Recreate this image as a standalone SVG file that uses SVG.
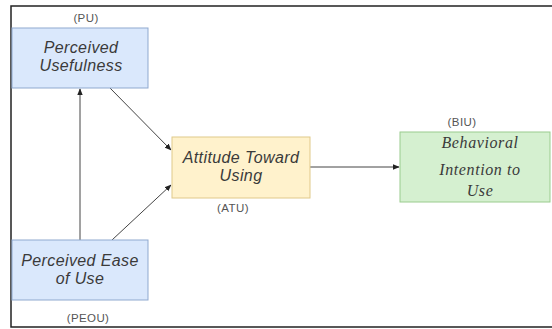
<svg xmlns="http://www.w3.org/2000/svg" width="552" height="329" viewBox="0 0 552 329">
<style>
.sans{font-family:"Liberation Sans",Arial,sans-serif;font-style:italic;font-size:16px;letter-spacing:0.4px;fill:#3a3a3a;text-anchor:middle}
.serif{font-family:"Liberation Serif","Times New Roman",serif;font-style:italic;font-size:16px;letter-spacing:0.6px;fill:#3a3a3a;text-anchor:middle}
.lbl{font-family:"Liberation Sans",Arial,sans-serif;font-size:11.5px;letter-spacing:0.4px;fill:#555;text-anchor:middle}
.blue{fill:#dae8fc;stroke:#8fa9cf;stroke-width:1}
.yellow{fill:#fff2cc;stroke:#e0c98a;stroke-width:1}
.green{fill:#d5f0d0;stroke:#9acc8e;stroke-width:1}
.conn{stroke:#444;stroke-width:1;fill:none}
</style>
<defs>
<marker id="arr" viewBox="0 0 10 10" refX="9" refY="5" markerWidth="7" markerHeight="7" orient="auto" markerUnits="userSpaceOnUse">
<path d="M0,1 L10,5 L0,9 Z" fill="#222"/>
</marker>
</defs>
<rect x="0" y="0" width="552" height="329" fill="#fff"/>
<path d="M560,6 H11 V327 H560" fill="none" stroke="#222" stroke-width="1.5"/>
<g id="connectors">
<line class="conn" x1="80" y1="240" x2="80" y2="89" marker-end="url(#arr)"/>
<line class="conn" x1="110" y1="88" x2="171" y2="150" marker-end="url(#arr)"/>
<line class="conn" x1="112" y1="240" x2="171" y2="185" marker-end="url(#arr)"/>
<line class="conn" x1="310" y1="167" x2="399" y2="167" stroke="#999" stroke-width="1.5" marker-end="url(#arr)"/>
</g>
<g id="PU">
<text class="lbl" x="86" y="22">(PU)</text>
<rect class="blue" x="12" y="28" width="136" height="60"/>
<text class="sans" x="81" y="53">Perceived</text>
<text class="sans" x="81" y="71">Usefulness</text>
</g>
<g id="PEOU">
<rect class="blue" x="12" y="240" width="136" height="60"/>
<text class="sans" x="80" y="266">Perceived Ease</text>
<text class="sans" x="80" y="284">of Use</text>
<text class="lbl" x="88" y="322">(PEOU)</text>
</g>
<g id="ATU">
<rect class="yellow" x="172" y="137" width="138" height="61"/>
<text class="sans" x="241" y="163">Attitude Toward</text>
<text class="sans" x="241" y="181">Using</text>
<text class="lbl" x="233" y="212">(ATU)</text>
</g>
<g id="BIU">
<text class="lbl" x="462" y="126">(BIU)</text>
<rect class="green" x="400" y="132" width="150" height="70"/>
<text class="serif" x="480" y="148">Behavioral</text>
<text class="serif" x="480" y="175">Intention to</text>
<text class="serif" x="480" y="196">Use</text>
</g>
</svg>
